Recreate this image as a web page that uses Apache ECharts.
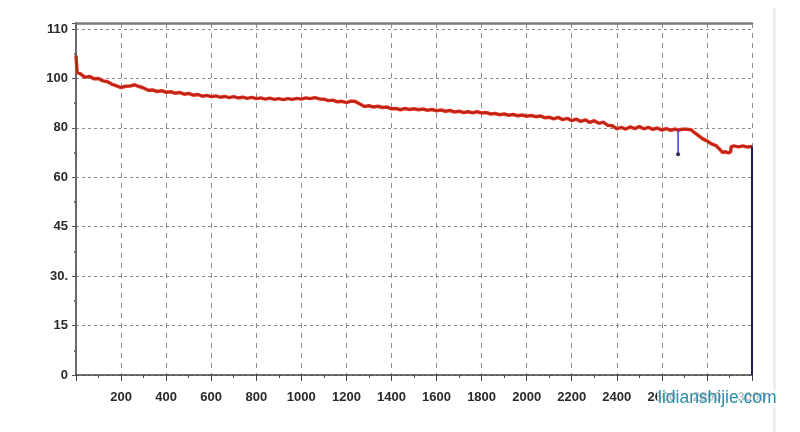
<!DOCTYPE html>
<html>
<head>
<meta charset="utf-8">
<script src="https://cdn.jsdelivr.net/npm/echarts@6/dist/echarts.min.js"></script>
<style>html,body{margin:0;padding:0;background:#fff;}#c{width:800px;height:432px;}</style>
</head>
<body>
<div id="c"></div>
<script>
// Y tick levels (the reference axis is evenly spaced at these uneven labels)
var yLevels = [0, 15, 30, 45, 60, 80, 100, 110];
var yLabels = ['0', '15', '30.', '45', '60', '80', '100', '110'];
var xTicks = [0, 200, 400, 600, 800, 1000, 1200, 1400, 1600, 1800, 2000, 2200, 2400, 2600, 2800, 3000];

// capacity curve: [cycle, value]
var capacity = [[0,104.6],[5,101.2],[20,100.9],[40,100.2],[60,100.4],[80,99.8],[100,99.9],[120,99.0],[140,98.6],[160,97.6],[180,97.0],[200,96.3],[220,96.8],[240,96.9],[260,97.4],[280,96.7],[300,96.1],[320,95.2],[340,95.3],[360,94.7],[380,95.0],[400,94.4],[420,94.6],[440,94.0],[460,94.3],[480,93.6],[500,93.9],[520,93.2],[540,93.5],[560,92.8],[580,93.1],[600,92.6],[620,92.9],[640,92.4],[660,92.7],[680,92.2],[700,92.6],[720,92.1],[740,92.4],[760,91.9],[780,92.3],[800,91.8],[820,92.1],[840,91.6],[860,92.0],[880,91.5],[900,91.8],[920,91.4],[940,91.8],[960,91.5],[980,91.9],[1000,91.6],[1020,92.1],[1040,91.8],[1060,92.2],[1080,91.7],[1100,91.6],[1120,91.0],[1140,91.2],[1160,90.5],[1180,90.7],[1200,90.2],[1220,90.8],[1240,90.6],[1260,89.6],[1280,88.6],[1300,88.9],[1320,88.4],[1340,88.7],[1360,88.2],[1380,88.4],[1400,87.7],[1420,87.8],[1440,87.3],[1460,87.8],[1480,87.4],[1500,87.7],[1520,87.3],[1540,87.6],[1560,87.1],[1580,87.4],[1600,86.9],[1620,87.2],[1640,86.7],[1660,87.0],[1680,86.4],[1700,86.7],[1720,86.2],[1740,86.5],[1760,86.1],[1780,86.5],[1800,86.0],[1820,86.2],[1840,85.6],[1860,85.8],[1880,85.3],[1900,85.6],[1920,85.1],[1940,85.4],[1960,84.9],[1980,85.2],[2000,84.7],[2020,85.0],[2040,84.5],[2060,84.8],[2080,84.1],[2100,84.3],[2120,83.6],[2140,84.2],[2160,83.3],[2180,83.8],[2200,82.9],[2220,83.5],[2240,82.6],[2260,83.2],[2280,82.2],[2300,82.9],[2320,81.8],[2340,82.3],[2360,81.0],[2380,80.8],[2400,79.6],[2420,80.2],[2440,79.5],[2460,80.4],[2480,79.7],[2500,80.5],[2520,79.6],[2540,80.2],[2560,79.4],[2580,79.9],[2600,79.1],[2620,79.7],[2640,79.0],[2660,79.5],[2672,79.0],[2690,79.4],[2710,79.4],[2730,79.2],[2740,78.4],[2760,77.0],[2780,75.6],[2800,74.7],[2820,73.5],[2840,72.8],[2860,71.0],[2870,70.0],[2880,70.4],[2895,69.9],[2905,70.3],[2908,72.4],[2920,72.7],[2940,72.3],[2960,72.7],[2980,72.2],[3000,72.4]];
// blue glitch near cycle 2672 and final drop at 3000
var glitch = [[2672, 79.0], [2672, 69.3]];
var finalDrop = [[3000, 72.4], [3000, 0]];

function toAxis(v) {
  for (var i = 0; i < yLevels.length - 1; i++) {
    if (v <= yLevels[i + 1] || i === yLevels.length - 2) {
      return i + (v - yLevels[i]) / (yLevels[i + 1] - yLevels[i]);
    }
  }
  return 0;
}
function conv(arr) { return arr.map(function (p) { return [p[0], toAxis(p[1])]; }); }

var labelFont = { fontFamily: 'Liberation Sans', fontWeight: 'bold', fontSize: 13, color: '#2a2a2a' };

var chart = echarts.init(document.getElementById('c'), null, { renderer: 'canvas' });
chart.setOption({
  animation: false,
  backgroundColor: '#fff',
  grid: { left: 76, right: 48, top: 23, bottom: 57 },
  xAxis: [{
    type: 'value', min: 0, max: 3000, interval: 200,
    axisLine: { lineStyle: { color: '#444', width: 1.5 } },
    axisTick: { show: true, length: 6, lineStyle: { color: '#444' } },
    minorTick: { show: true, splitNumber: 2, length: 3, lineStyle: { color: '#444' } },
    axisLabel: Object.assign({ margin: 16, formatter: function (v) { return v === 0 ? '' : String(v); } }, labelFont),
    splitLine: { show: true, lineStyle: { color: '#8c8c8c', type: [5, 5], width: 1 } }
  }, {
    type: 'value', min: 0, max: 3000, position: 'top',
    axisLine: { show: true, onZero: false, lineStyle: { color: '#7a7a7a', width: 2.5 } },
    axisTick: { show: false }, axisLabel: { show: false }, splitLine: { show: false }
  }],
  yAxis: [{
    type: 'value', min: 0, max: 7.12, interval: 1,
    axisLine: { show: true, lineStyle: { color: '#9090c0', width: 1.5 } },
    axisTick: { show: true, length: 4, lineStyle: { color: '#555' } },
    minorTick: { show: true, splitNumber: 2, length: 2, lineStyle: { color: '#555', width: 1.5 } },
    axisLabel: Object.assign({ margin: 8, formatter: function (v) {
      var i = Math.round(v);
      return Math.abs(v - i) < 1e-6 && i < yLabels.length ? yLabels[i] : '';
    } }, labelFont),
    splitLine: { show: true, lineStyle: { color: '#8c8c8c', type: [3, 3], width: 1 } }
  }, {
    type: 'value', min: 0, max: 7.12, position: 'right',
    axisLine: { show: true, lineStyle: { color: '#555', width: 1.5 } },
    axisTick: { show: false }, axisLabel: { show: false }, splitLine: { show: false }
  }],
  series: [{
    type: 'line', data: conv(capacity), showSymbol: false, z: 5,
    lineStyle: { color: '#e0321f', width: 3.5 }
  }, {
    type: 'line', data: conv(capacity), showSymbol: false, z: 6,
    lineStyle: { color: '#9e1a10', width: 1 }
  }, {
    type: 'line', data: conv(glitch), z: 7,
    symbol: 'circle', symbolSize: function (v, p) { return p.dataIndex === 1 ? 4 : 0; },
    itemStyle: { color: '#30305a' },
    lineStyle: { color: '#3a3ad0', width: 1.5 }
  }, {
    type: 'line', data: conv(finalDrop), showSymbol: false, z: 7,
    lineStyle: { color: '#1c1c5a', width: 2 }
  }],
  graphic: [{
    type: 'rect', left: 773, top: 8, shape: { width: 3, height: 424 },
    style: { fill: '#eeeeee' }, silent: true
  }, {
    type: 'text', left: 657, top: 389, z: 100,
    style: {
      text: 'lidianshijie.com', fontFamily: 'Liberation Sans', fontSize: 17.5,
      fill: '#2a8daa', backgroundColor: 'rgba(255,255,255,0.7)', padding: [0, 1]
    }
  }]
});
</script>
</body>
</html>
